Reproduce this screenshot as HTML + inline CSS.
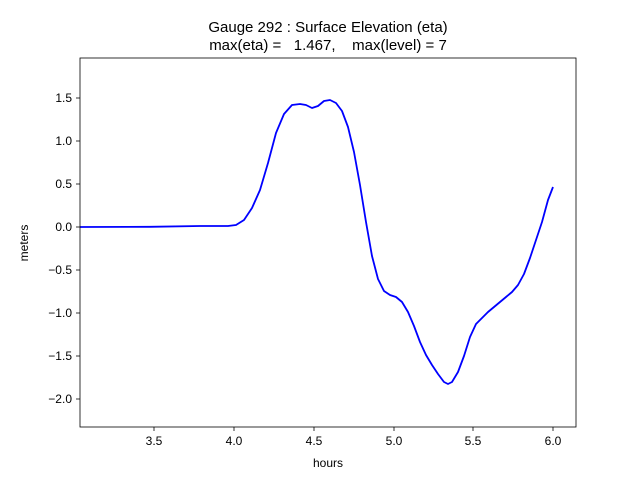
<!DOCTYPE html>
<html><head><meta charset="utf-8"><style>
html,body{margin:0;padding:0;background:#fff;}
svg text{font-family:"Liberation Sans","DejaVu Sans",sans-serif;fill:#000;}
</style></head><body>
<svg width="640" height="480" xmlns="http://www.w3.org/2000/svg">
<rect width="640" height="480" fill="#fff"/>
<text x="328" y="32" font-size="15" text-anchor="middle">Gauge 292 : Surface Elevation (eta)</text>
<text x="328" y="50" font-size="15" text-anchor="middle" xml:space="preserve">max(eta) =   1.467,    max(level) = 7</text>
<g clip-path="url(#c)">
<clipPath id="c"><rect x="80" y="58" width="496" height="369"/></clipPath>
<path d="M80,227 L150,226.8 L200,226 L228,226 L236,225 L244,220 L252,208 L260,190 L268,163 L276,133 L284,114 L292,105 L300,104 L306,105 L312,108 L318,106 L324,101 L330,100 L336,103 L342,111 L348,127 L354,152 L360,185 L366,222 L372,256 L378,279 L384,291 L390,295 L396,297 L402,302 L408,312 L414,326 L420,342 L426,355 L432,365 L438,374 L444,382 L448,384 L452,382 L458,372 L464,356 L470,337 L476,324 L482,318 L488,312 L494,307 L500,302 L506,297 L512,292 L518,285 L524,274 L530,258 L536,240 L542,222 L548,200 L553,187" fill="none" stroke="#0000ff" stroke-width="1.8" stroke-linejoin="round"/>
</g>
<rect x="80" y="58" width="496" height="369" fill="none" stroke="#000" stroke-width="0.8"/>
<g stroke="#000" stroke-width="0.8">
<line x1="154" y1="427" x2="154" y2="431"/><line x1="234" y1="427" x2="234" y2="431"/><line x1="314" y1="427" x2="314" y2="431"/><line x1="394" y1="427" x2="394" y2="431"/><line x1="473" y1="427" x2="473" y2="431"/><line x1="553" y1="427" x2="553" y2="431"/>
<line x1="76" y1="98" x2="80" y2="98"/><line x1="76" y1="141" x2="80" y2="141"/><line x1="76" y1="184" x2="80" y2="184"/><line x1="76" y1="227" x2="80" y2="227"/><line x1="76" y1="270" x2="80" y2="270"/><line x1="76" y1="313" x2="80" y2="313"/><line x1="76" y1="356" x2="80" y2="356"/><line x1="76" y1="399" x2="80" y2="399"/>
</g>
<g font-size="12" text-anchor="middle">
<text x="154" y="445">3.5</text><text x="234" y="445">4.0</text><text x="314" y="445">4.5</text><text x="394" y="445">5.0</text><text x="473" y="445">5.5</text><text x="553" y="445">6.0</text>
<text x="328" y="467">hours</text>
</g>
<g font-size="12" text-anchor="end">
<text x="72" y="102">1.5</text><text x="72" y="145">1.0</text><text x="72" y="188">0.5</text><text x="72" y="231">0.0</text><text x="72" y="274">−0.5</text><text x="72" y="317">−1.0</text><text x="72" y="360">−1.5</text><text x="72" y="403">−2.0</text>
</g>
<text x="28" y="243" font-size="12" text-anchor="middle" transform="rotate(-90 28 243)">meters</text>
</svg>
</body></html>
